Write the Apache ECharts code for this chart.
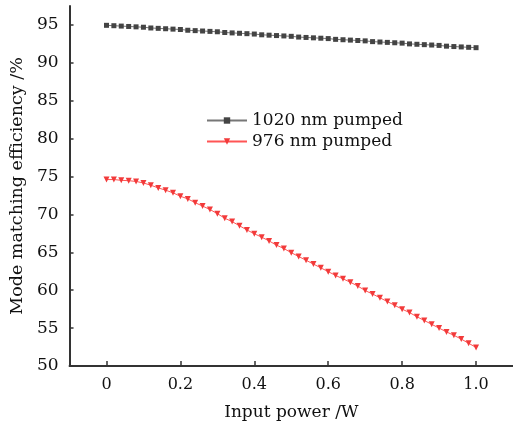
<!DOCTYPE html>
<html>
<head>
<meta charset="utf-8">
<script src="https://cdn.jsdelivr.net/npm/echarts@6/dist/echarts.min.js"></script>
<style>
html,body{margin:0;padding:0;background:#fff;}
#main{width:513px;height:426px;}
</style>
</head>
<body>
<div id="main"></div>
<script>
const xValues = [0,0.02,0.04,0.06,0.08,0.10,0.12,0.14,0.16,0.18,0.20,0.22,0.24,0.26,0.28,0.30,0.32,0.34,0.36,0.38,0.40,0.42,0.44,0.46,0.48,0.50,0.52,0.54,0.56,0.58,0.60,0.62,0.64,0.66,0.68,0.70,0.72,0.74,0.76,0.78,0.80,0.82,0.84,0.86,0.88,0.90,0.92,0.94,0.96,0.98,1.00];
const pumped1020 = [94.95,94.9,94.85,94.8,94.75,94.7,94.6,94.55,94.5,94.45,94.4,94.3,94.25,94.2,94.15,94.1,94.0,93.95,93.9,93.85,93.8,93.7,93.65,93.6,93.55,93.5,93.4,93.35,93.3,93.25,93.2,93.1,93.05,93.0,92.95,92.9,92.8,92.75,92.7,92.65,92.6,92.5,92.45,92.4,92.35,92.3,92.2,92.15,92.1,92.05,92.0];
const pumped976 = [74.6,74.6,74.5,74.45,74.35,74.15,73.85,73.5,73.2,72.85,72.4,72.05,71.55,71.1,70.65,70.1,69.5,69.05,68.5,67.95,67.45,67.0,66.5,65.95,65.5,64.95,64.45,63.95,63.45,62.95,62.45,61.95,61.5,61.05,60.55,59.95,59.5,59.0,58.5,58.0,57.5,57.05,56.5,56.0,55.5,55.0,54.5,54.05,53.55,53.0,52.45];
const seriesNames = ['1020 nm pumped','976 nm pumped'];
const xTicks = [0,0.2,0.4,0.6,0.8,1.0];
const xTickLabels = ['0','0.2','0.4','0.6','0.8','1.0'];
const yTicks = [50,55,60,65,70,75,80,85,90,95];
const xAxisName = 'Input power /W';
const yAxisName = 'Mode matching efficiency /%';

const FONT = 'DejaVu Serif';
const axisColor = '#333';
const textColor = '#111';
const chart = echarts.init(document.getElementById('main'), null, {renderer:'canvas'});
chart.setOption({
  animation:false,
  backgroundColor:'#fff',
  grid:{left:67, right:-1, top:6, bottom:59, containLabel:false},
  legend:{
    orient:'vertical', left:206, top:112, padding:0,
    itemWidth:40, itemHeight:8, itemGap:4,
    textStyle:{fontFamily:FONT, fontSize:17, color:textColor, lineHeight:17},
    data:seriesNames
  },
  xAxis:{
    type:'value', min:-0.1, max:1.1,
    name:xAxisName, nameLocation:'middle', nameGap:38,
    nameTextStyle:{fontFamily:FONT, fontSize:17, color:textColor},
    axisLine:{onZero:false, lineStyle:{color:axisColor, width:2}},
    axisTick:{inside:true, length:5, customValues:xTicks, lineStyle:{color:axisColor, width:1.5}},
    axisLabel:{customValues:xTicks, formatter:function(v){const i=xTicks.findIndex(t=>Math.abs(t-v)<1e-9);return i>=0?xTickLabels[i]:'';}, fontFamily:FONT, fontSize:16, color:textColor, margin:11},
    splitLine:{show:false}
  },
  yAxis:{
    type:'value', min:50, max:97.5,
    name:yAxisName, nameLocation:'middle', nameGap:38, nameRotate:90,
    nameTextStyle:{fontFamily:FONT, fontSize:17.5, color:textColor},
    axisLine:{onZero:false, lineStyle:{color:axisColor, width:2}},
    axisTick:{inside:true, length:4, customValues:yTicks, lineStyle:{color:axisColor, width:1.5}},
    axisLabel:{customValues:yTicks, fontFamily:FONT, fontSize:17, color:textColor, margin:11},
    splitLine:{show:false}
  },
  series:[
    {name:seriesNames[0], type:'line', data:xValues.map((x,i)=>[x,pumped1020[i]]),
     symbol:'rect', symbolSize:5, itemStyle:{color:'#444'}, lineStyle:{color:'#777', width:1}},
    {name:seriesNames[1], type:'line', data:xValues.map((x,i)=>[x,pumped976[i]]),
     symbol:'triangle', symbolRotate:180, symbolSize:6, itemStyle:{color:'#f23a3a'}, lineStyle:{color:'#f55', width:1}}
  ]
});
</script>
</body>
</html>
